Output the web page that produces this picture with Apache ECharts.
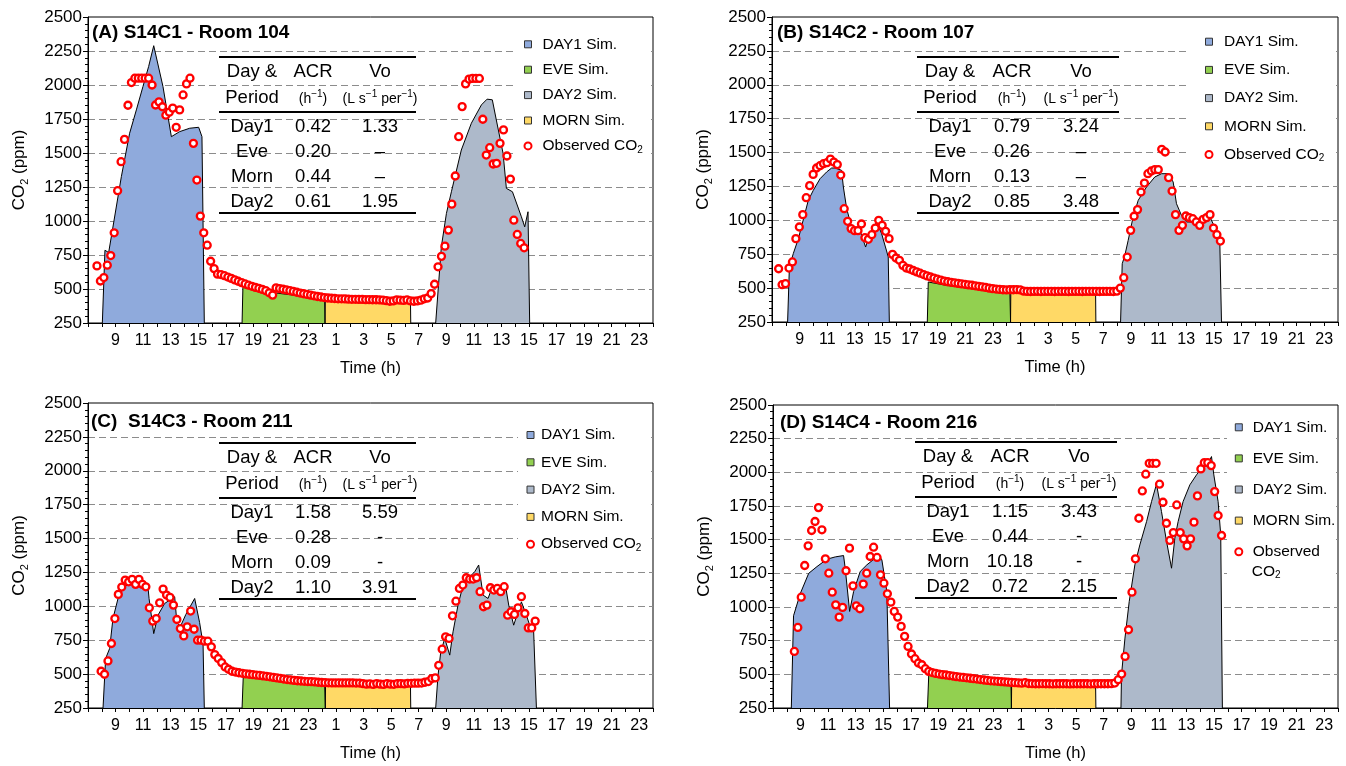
<!DOCTYPE html>
<html>
<head>
<meta charset="utf-8">
<script src="https://cdn.jsdelivr.net/npm/echarts@6/dist/echarts.min.js"></script>
<style>
  html, body { margin: 0; padding: 0; background: #fff; }
  #chart { width: 1346px; height: 766px; }
</style>
</head>
<body>
<div id="chart"></div>
<script>
// ---- data (hours counted from midnight of day 1; 25 = 1 am next day) ----
const obsStep = 0.25;

const obsStartA = 7.65;
const obsA = [
  670, 559, 584, 675, 746, 913, 1223, 1436, 1600, 1851,
  2018, 2050, 2050, 2050, 2050, 2050, 2000, 1853, 1876, 1840,
  1778, 1800, 1830, 1689, 1817, 1927, 2008, 2050, 1571, 1301,
  1036, 913, 822, 704, 650, 609,
  606, 598, 588, 578, 567, 557, 547, 537, 528, 520,
  512, 505, 497, 488, 472, 455, 508, 503, 498, 493,
  488, 482, 476, 470, 465, 460, 455, 450, 445, 441,
  437, 434, 432, 430, 428, 428, 427, 425, 424, 424,
  423, 423, 422, 422, 421, 421, 420, 418, 414, 410,
  412, 420, 418, 416, 420, 412, 410, 412, 418, 428,
  434, 466, 535, 663, 740, 815, 933, 1124, 1331, 1620,
  1841, 2008, 2043, 2048, 2048, 2048, 1748, 1485, 1539, 1419,
  1424, 1571, 1670, 1478, 1308, 1006, 901, 835, 803
];
const simDay1A = [[8.04, 250], [8.23, 785], [8.5, 768], [9.42, 1326], [10.02, 1645], [10.51, 1817], [10.99, 1989], [11.4, 2136], [11.77, 2289], [12.44, 1989], [13.05, 1620], [13.65, 1657], [14.38, 1682], [15.03, 1689], [15.27, 1620], [15.44, 250]];
const simEveA = [[18.18, 250], [18.24, 512], [19, 495], [20, 480], [21, 466], [22, 454], [23, 443], [24.17, 432], [24.2, 250]];
const simMornA = [[24.2, 250], [24.22, 432], [27, 425], [30.4, 420], [30.42, 250]];
const simDay2A = [[32.23, 250], [32.64, 810], [33.01, 1056], [33.37, 1215], [34.09, 1522], [34.82, 1719], [35.55, 1854], [35.96, 1896], [36.34, 1891], [36.63, 1743], [37.12, 1498], [37.36, 1240], [37.8, 1215], [38.45, 1031], [38.69, 957], [38.93, 1068], [39.05, 250]];
const tableA = [['Day1', '0.42', '1.33'], ['Eve', '0.20', '–'], ['Morn', '0.44', '–'], ['Day2', '0.61', '1.95']];

const obsStartB = 7.48;
const obsB = [
  643, 525, 533, 648, 693, 865, 951, 1042, 1167, 1256,
  1339, 1386, 1403, 1418, 1425, 1452, 1430, 1411, 1334, 1086,
  993, 939, 924, 924, 973, 872, 860, 894, 943, 1000,
  963, 919, 865, 749, 722, 705, 668, 648, 641,
  630, 620, 610, 600, 590, 582, 574, 566, 559, 552,
  547, 543, 539, 535, 531, 528, 524, 521, 517, 513,
  509, 505, 500, 496, 493, 490, 488, 487, 488, 488,
  489, 487, 478, 476, 475, 476, 476, 475, 476, 476,
  476, 475, 476, 476, 476, 475, 476, 476, 476, 475,
  476, 476, 476, 476, 475, 476, 476, 476, 475, 478,
  500, 577, 729, 926, 1030, 1079, 1209, 1275, 1344, 1364,
  1374, 1374, 1524, 1504, 1315, 1216, 1042, 926, 963, 1032,
  1020, 1012, 988, 963, 1007, 1020, 1042, 943, 894, 847
];
const simDay1B = [[8.13, 250], [8.26, 656], [8.54, 754], [8.91, 865], [9.32, 1025], [9.63, 1148], [9.99, 1221], [10.48, 1307], [10.96, 1357], [11.32, 1386], [11.56, 1386], [12.04, 1369], [12.17, 1246], [12.41, 1086], [12.7, 975], [13.01, 943], [13.37, 926], [13.78, 803], [14.1, 902], [14.58, 988], [14.94, 902], [15.3, 774], [15.42, 730], [15.5, 250]];
const simEveB = [[18.25, 250], [18.32, 545], [19.65, 520], [22.06, 488], [24.23, 484], [24.28, 250]];
const simMornB = [[24.28, 250], [24.3, 484], [27, 479], [30.44, 479], [30.46, 250]];
const simDay2B = [[32.25, 250], [32.37, 680], [32.56, 742], [32.8, 852], [33.16, 1025], [33.53, 1148], [34.13, 1246], [34.73, 1320], [35.22, 1344], [35.7, 1344], [36.06, 1283], [36.3, 1123], [36.66, 1037], [37.03, 988], [37.39, 988], [37.87, 975], [38.23, 1012], [38.72, 1025], [39.01, 963], [39.32, 877], [39.44, 828], [39.56, 250]];
const tableB = [['Day1', '0.79', '3.24'], ['Eve', '0.26', '–'], ['Morn', '0.13', '–'], ['Day2', '0.85', '3.48']];

const obsStartC = 7.95;
const obsC = [
  521, 499, 597, 726, 910, 1088, 1142, 1194, 1181, 1199,
  1162, 1199, 1162, 1144, 989, 891, 910, 1026, 1127, 1083,
  1066, 1009, 903, 836, 782, 849, 965, 831, 750, 750,
  743, 743, 701, 644, 615, 585, 553, 536, 521,
  515, 510, 506, 502, 499, 496, 493, 490, 487, 484,
  480, 476, 472, 468, 464, 460, 457, 454, 451, 449,
  447, 445, 444, 442, 440, 438, 437, 436, 435, 435,
  435, 435, 435, 435, 435, 434, 434, 430, 426, 428,
  424, 430, 426, 424, 430, 426, 425, 430, 430, 428,
  432, 432, 433, 433, 434, 440,
  445, 467, 472, 565, 684, 775, 763, 930, 1038, 1132,
  1157, 1211, 1201, 1201, 1211, 1108, 997, 1009, 1137, 1120,
  1132, 1108, 1145, 935, 960, 940, 989, 1071, 947, 841,
  841, 891
];
const simDay1C = [[8.09, 250], [8.28, 615], [8.57, 689], [8.81, 910], [9.18, 1058], [9.54, 1132], [9.9, 1162], [10.27, 1169], [10.99, 1169], [11.35, 1144], [11.43, 1058], [11.77, 799], [12.08, 935], [12.56, 1021], [12.93, 1046], [13.29, 1071], [13.45, 880], [13.7, 850], [14.1, 940], [14.74, 1058], [15.1, 880], [15.35, 720], [15.44, 250]];
const simEveC = [[18.18, 250], [18.27, 491], [19, 482], [20, 470], [21, 458], [22, 447], [23, 438], [24.17, 428], [24.22, 250]];
const simMornC = [[24.22, 250], [24.24, 428], [27, 425], [30.4, 423], [30.42, 250]];
const simDay2C = [[32.23, 250], [32.4, 491], [32.6, 664], [32.89, 763], [33.25, 640], [33.49, 812], [33.85, 1009], [34.22, 1157], [34.7, 1218], [35.06, 1255], [35.35, 1305], [35.67, 1083], [36.03, 1058], [36.39, 1157], [36.88, 1132], [37.31, 1145], [37.53, 1009], [37.89, 861], [38.21, 960], [38.45, 1033], [38.81, 935], [39.05, 861], [39.34, 812], [39.54, 250]];
const tableC = [['Day1', '1.58', '5.59'], ['Eve', '0.28', '-'], ['Morn', '0.09', '-'], ['Day2', '1.10', '3.91']];

const obsStartD = 8.55;
const obsD = [
  670, 848, 1073, 1308, 1454, 1568, 1635, 1738, 1573, 1358,
  1251, 1110, 1016, 925, 997, 1269, 1437, 1157, 1009, 987,
  1170, 1251, 1375, 1444, 1368, 1239, 1177, 1098, 1036, 967,
  925, 856, 782, 707, 651, 616, 584, 571, 542, 522,
  513, 507, 502, 498, 495, 491, 487, 483, 480, 477,
  474, 471, 468, 465, 461, 458, 455, 452, 450, 448,
  446, 444, 442, 440, 438, 436, 434, 438,
  432, 431, 430, 430, 431, 430, 430, 429, 430, 430,
  430, 430, 429, 430, 430, 430, 430, 430, 429, 430,
  430, 430, 430, 430, 431, 435,
  460, 502, 633, 831, 1110, 1358, 1659, 1862, 1986, 2067,
  2067, 2067, 1912, 1778, 1622, 1494, 1553, 1758, 1553, 1506,
  1454, 1506, 1630, 1825, 2025, 2072, 2072, 2050, 1857, 1679,
  1531
];
const simDay1D = [[8.33, 250], [8.49, 935], [8.98, 1100], [9.59, 1250], [10.19, 1300], [10.91, 1355], [11.52, 1372], [12.12, 1382], [12.24, 1288], [12.56, 967], [12.85, 1115], [13.33, 1264], [13.81, 1313], [14.42, 1363], [14.78, 1368], [14.9, 1350], [15.26, 1115], [15.46, 250]];
const simEveD = [[18.21, 250], [18.31, 517], [19, 500], [20, 484], [21, 470], [22, 457], [23, 446], [24.27, 432], [24.3, 250]];
const simMornD = [[24.3, 250], [24.32, 430], [27, 428], [30.41, 428], [30.43, 250]];
const simDay2D = [[32.25, 250], [32.29, 497], [32.54, 769], [32.85, 1041], [33.26, 1313], [33.62, 1461], [34.11, 1635], [34.47, 1783], [34.83, 1912], [35.19, 1709], [35.56, 1486], [35.92, 1288], [36.16, 1511], [36.4, 1635], [36.76, 1783], [37.25, 1907], [37.73, 1981], [38.21, 2043], [38.58, 2067], [38.82, 2117], [38.99, 1981], [39.3, 1783], [39.49, 1536], [39.61, 250]];
const tableD = [['Day1', '1.15', '3.43'], ['Eve', '0.44', '-'], ['Morn', '10.18', '-'], ['Day2', '0.72', '2.15']];

const simNames = ['DAY1 Sim.', 'EVE Sim.', 'DAY2 Sim.', 'MORN Sim.'];
const obsName = 'Observed CO2';

// ---- styling ----
const FONT = '"Liberation Sans", Arial, sans-serif';
const simFills = ['#8faadc', '#92d050', '#adb9ca', '#ffd966'];

const panels = [
  { grid: { left: 88, top: 17, width: 565, height: 306 }, title: '(A) S14C1 - Room 104', titleXY: [92, 33],
    table: tableA, tableXY: [219, 57], tableW: 197, cols: [33, 94, 161],
    leg: { left: 523.5, top: 35.3, gap: 7.4, pad: 6 }, legBox: [517, 19, 134, 146],
    obs: obsA, obsStart: obsStartA, sims: [simDay1A, simEveA, simDay2A, simMornA] },
  { grid: { left: 772, top: 17, width: 566, height: 305 }, title: '(B) S14C2 - Room 107', titleXY: [777, 33],
    table: tableB, tableXY: [917, 57], tableW: 202, cols: [33, 95, 164],
    leg: { left: 1204.5, top: 32.7, gap: 10.2, pad: 6.5 }, legBox: [1190, 19, 146, 151],
    obs: obsB, obsStart: obsStartB, sims: [simDay1B, simEveB, simDay2B, simMornB] },
  { grid: { left: 88, top: 403, width: 565, height: 305 }, title: '(C)  S14C3 - Room 211', titleXY: [91, 422],
    table: tableC, tableXY: [219, 443], tableW: 197, cols: [33, 94, 161],
    leg: { left: 526, top: 426, gap: 9.3, pad: 2 }, legBox: [518, 405, 133, 151],
    obs: obsC, obsStart: obsStartC, sims: [simDay1C, simEveC, simDay2C, simMornC] },
  { grid: { left: 773, top: 405, width: 565, height: 303 }, title: '(D) S14C4 - Room 216', titleXY: [780, 423],
    table: tableD, tableXY: [915, 442], tableW: 202, cols: [33, 95, 164],
    leg: { left: 1234.3, top: 418.3, gap: 13.1, pad: 5.4 }, legBox: [1227, 407, 109, 181], twoLineObs: true,
    obs: obsD, obsStart: obsStartD, sims: [simDay1D, simEveD, simDay2D, simMornD] }
];

function hourLabel(v) {
  const h = Math.round(v);
  if (Math.abs(v - h) > 1e-6 || h <= 7 || h % 2 === 0) return '';
  return String(h % 24);
}

function text(x, y, str, extra) {
  return {
    type: 'text', x: x, y: y, silent: true, z: 50,
    style: Object.assign({
      text: str, fill: '#000', fontFamily: FONT, fontSize: 18.5,
      align: 'center', verticalAlign: 'middle'
    }, extra || {})
  };
}

const supRich = { sup: { fontSize: 10, fontFamily: FONT, fill: '#000', verticalAlign: 'top', lineHeight: 10 } };
const subRich = { sub: { fontSize: 10, fontFamily: FONT, fill: '#000', verticalAlign: 'bottom', lineHeight: 10 } };

const grids = [], xAxes = [], yAxes = [], series = [], legends = [], graphics = [];

panels.forEach((p, i) => {
  grids.push(Object.assign({ show: true, borderColor: '#000', borderWidth: 1, containLabel: false }, p.grid));

  xAxes.push({
    type: 'value', gridIndex: i, min: 7, max: 48, interval: 1,
    name: 'Time (h)', nameLocation: 'middle', nameGap: 37,
    nameTextStyle: { fontSize: 16.5, color: '#000', fontFamily: FONT },
    axisLine: { onZero: false, lineStyle: { color: '#000', width: 1 } },
    axisTick: { show: true, length: 4, lineStyle: { color: '#000' } },
    axisLabel: { margin: 10, fontSize: 16, color: '#000', fontFamily: FONT, formatter: hourLabel },
    splitLine: { show: false }
  });

  yAxes.push({
    type: 'value', gridIndex: i, min: 250, max: 2500, interval: 250,
    name: 'CO{sub|2} (ppm)', nameLocation: 'middle', nameGap: 58,
    nameTextStyle: {
      fontSize: 17, color: '#000', fontFamily: FONT, lineHeight: 22,
      rich: { sub: { fontSize: 11, color: '#000', fontFamily: FONT, verticalAlign: 'bottom', lineHeight: 11 } }
    },
    axisLine: { show: true, lineStyle: { color: '#000', width: 1 } },
    axisTick: { show: true, length: 5, lineStyle: { color: '#000' } },
    minorTick: { show: true, splitNumber: 5, length: 3, lineStyle: { color: '#000' } },
    axisLabel: { margin: 6, fontSize: 17, color: '#000', fontFamily: FONT, formatter: (v) => String(v) },
    splitLine: { show: true, showMinLine: false, showMaxLine: false, lineStyle: { color: '#8c8c8c', type: [7, 4], width: 1 } }
  });

  p.sims.forEach((d, k) => {
    series.push({
      type: 'line', name: simNames[k], xAxisIndex: i, yAxisIndex: i, data: d,
      symbol: 'none', silent: true, z: 2,
      lineStyle: { color: '#000', width: 1 },
      itemStyle: { color: simFills[k] },
      areaStyle: { color: simFills[k], opacity: 1, origin: 'start' }
    });
  });

  series.push({
    type: 'scatter', name: obsName, xAxisIndex: i, yAxisIndex: i, z: 4, silent: true,
    data: p.obs.map((v, j) => [p.obsStart + j * obsStep, v]),
    symbol: 'circle', symbolSize: 7,
    itemStyle: { color: '#fff', borderColor: '#ff0000', borderWidth: 2.3, opacity: 1 }
  });

  // white box behind the legend that hides the grid lines there
  graphics.push({
    type: 'rect', silent: true, z: 1,
    shape: { x: p.legBox[0], y: p.legBox[1], width: p.legBox[2], height: p.legBox[3] },
    style: { fill: '#fff' }
  });

  const rectStyle = { borderColor: '#333', borderWidth: 1 };
  legends.push({
    orient: 'vertical', left: p.leg.left, top: p.leg.top, itemGap: p.leg.gap,
    padding: 0, itemWidth: 7, itemHeight: 7, selectedMode: false,
    data: simNames.map((n) => ({ name: n, icon: 'rect', itemStyle: rectStyle })).concat([
      { name: obsName, icon: 'circle', itemStyle: { color: '#fff', borderColor: '#ff0000', borderWidth: 2 } }
    ]),
    formatter: (n) => n === obsName ? (p.twoLineObs ? 'Observed' : 'Observed CO{sub|2}') : n,
    textStyle: {
      fontSize: 15.5, color: '#000', fontFamily: FONT, lineHeight: 18, padding: [0, 0, 0, p.leg.pad],
      rich: { sub: { fontSize: 10, color: '#000', fontFamily: FONT, verticalAlign: 'bottom', lineHeight: 10 } }
    }
  });
  if (p.twoLineObs) {
    graphics.push(text(p.leg.left + 7 + 5 + p.leg.pad, p.leg.top + 9 + 4 * (18 + p.leg.gap) + 20, 'CO{sub|2}',
      { fontSize: 15.5, align: 'left', lineHeight: 18, rich: subRich }));
  }

  // panel title
  graphics.push(text(p.titleXY[0], p.titleXY[1], p.title, { fontSize: 19, fontWeight: 'bold', align: 'left' }));

  // ventilation table
  const tx = p.tableXY[0], ty = p.tableXY[1], c = p.cols;
  const line = (y) => ({ type: 'line', silent: true, z: 50, shape: { x1: tx, y1: y, x2: tx + p.tableW, y2: y }, style: { stroke: '#000', lineWidth: 2 } });
  graphics.push(line(ty), line(ty + 55), line(ty + 156));
  graphics.push(text(tx + c[0], ty + 15, 'Day &'), text(tx + c[1], ty + 15, 'ACR'), text(tx + c[2], ty + 15, 'Vo'));
  graphics.push(text(tx + c[0], ty + 41, 'Period'));
  graphics.push(text(tx + c[1], ty + 42, '(h{sup|−1})', { fontSize: 14, lineHeight: 20, rich: supRich }));
  graphics.push(text(tx + c[2], ty + 42, '(L s{sup|−1} per{sup|−1})', { fontSize: 14, lineHeight: 20, rich: supRich }));
  p.table.forEach((row, r) => {
    row.forEach((cell, k) => graphics.push(text(tx + c[k], ty + 70 + r * 25, cell)));
  });
});

const chart = echarts.init(document.getElementById('chart'));
chart.setOption({
  animation: false,
  backgroundColor: '#fff',
  grid: grids,
  xAxis: xAxes,
  yAxis: yAxes,
  legend: legends,
  series: series,
  graphic: { elements: graphics }
});
</script>
</body>
</html>
